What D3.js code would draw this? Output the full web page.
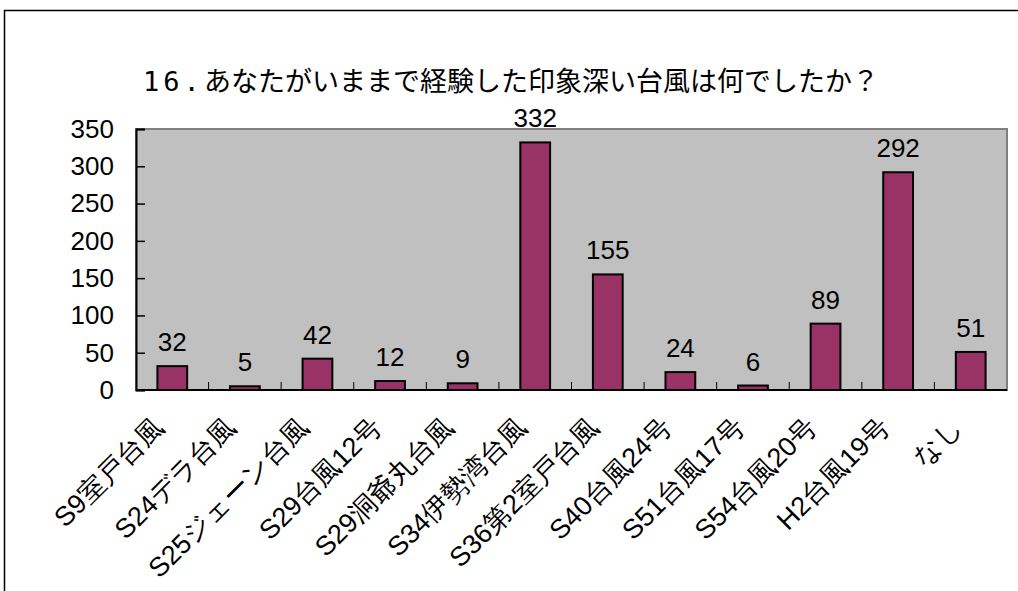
<!DOCTYPE html>
<html>
<head>
<meta charset="utf-8">
<script src="https://cdn.jsdelivr.net/npm/d3@7"></script>
<style>
    body { margin: 0; background: #fff; }
    .axis text { font-family: "Liberation Sans", Arial, sans-serif; }
</style>
</head>
<body>
<script>
var categories = ["S9室戸台風", "S24デラ台風", "S25ジェーン台風", "S29台風12号", "S29洞爺丸台風",
    "S34伊勢湾台風", "S36第2室戸台風", "S40台風24号", "S51台風17号", "S54台風20号", "H2台風19号", "なし"];
var counts = [32, 5, 42, 12, 9, 332, 155, 24, 6, 89, 292, 51];
var yTicks = [0, 50, 100, 150, 200, 250, 300, 350];
var titleNo = "16.";
var title = "あなたがいままで経験した印象深い台風は何でしたか？";

var W = 1018, H = 591;
var plot = {left: 136, right: 1007, top: 129, bottom: 390};
var font = "'Liberation Sans', 'Noto Sans CJK JP', sans-serif";

var svg = d3.select("body").append("svg").attr("width", W).attr("height", H);

// outer chart border (right and bottom run off the page)
svg.append("rect")
    .attr("x", 4.5).attr("y", 10.5)
    .attr("width", W + 10).attr("height", H + 10)
    .attr("fill", "#fff").attr("stroke", "#000").attr("stroke-width", 1.5);

var t = svg.append("text")
    .attr("x", 511).attr("y", 91)
    .attr("text-anchor", "middle")
    .attr("font-family", "'Noto Sans CJK JP', sans-serif")
    .attr("font-size", 27)
    .attr("fill", "#000");
t.append("tspan")
    .attr("font-family", "'DejaVu Sans Mono', monospace")
    .attr("letter-spacing", 4)
    .text(titleNo);
t.append("tspan").text(title);

var xScale = d3.scaleBand()
    .domain(categories)
    .range([plot.left, plot.right])
    .paddingInner(0.59).paddingOuter(0.295);

var xCat = d3.scaleBand().domain(categories).range([plot.left, plot.right]);

var yScale = d3.scaleLinear()
    .domain([0, 350])
    .range([plot.bottom, plot.top]);

// plot area
svg.append("rect")
    .attr("x", plot.left).attr("y", plot.top)
    .attr("width", plot.right - plot.left).attr("height", plot.bottom - plot.top)
    .attr("fill", "#c0c0c0").attr("stroke", "#808080").attr("stroke-width", 2);

// bars
svg.selectAll(".bar")
    .data(counts)
    .enter().append("rect")
    .attr("class", "bar")
    .attr("x", function (d, i) { return xScale(categories[i]); })
    .attr("y", function (d) { return yScale(d); })
    .attr("width", xScale.bandwidth())
    .attr("height", function (d) { return yScale(0) - yScale(d); })
    .attr("fill", "#993366")
    .attr("stroke", "#000")
    .attr("stroke-width", 2);

// value labels
svg.selectAll(".val")
    .data(counts)
    .enter().append("text")
    .attr("class", "val")
    .attr("x", function (d, i) { return xCat(categories[i]) + xCat.bandwidth() / 2; })
    .attr("y", function (d) { return yScale(d) - 15; })
    .attr("text-anchor", "middle")
    .attr("font-family", font)
    .attr("font-size", 26)
    .attr("fill", "#000")
    .text(function (d) { return d; });

// y axis
var yAxis = d3.axisLeft(yScale).tickValues(yTicks).tickSize(-9).tickPadding(22);
var gy = svg.append("g").attr("class", "axis y")
    .attr("transform", "translate(" + plot.left + ",0)")
    .call(yAxis);
gy.select(".domain").attr("stroke", "#000").attr("stroke-width", 2);
gy.selectAll(".tick line").attr("stroke", "#000").attr("stroke-width", 1.5);
gy.selectAll("text").attr("font-size", 26).attr("fill", "#000");

// x axis: ticks at category boundaries
var gx = svg.append("g").attr("class", "axis x")
    .attr("transform", "translate(0," + plot.bottom + ")");
gx.append("line")
    .attr("x1", plot.left).attr("x2", plot.right)
    .attr("stroke", "#000").attr("stroke-width", 2);
gx.selectAll(".tk")
    .data(categories.slice(1))
    .enter().append("line")
    .attr("class", "tk")
    .attr("x1", function (d) { return xCat(d); })
    .attr("x2", function (d) { return xCat(d); })
    .attr("y1", 0).attr("y2", -8)
    .attr("stroke", "#000").attr("stroke-width", 1);
gx.selectAll(".lbl")
    .data(categories)
    .enter().append("text")
    .attr("class", "lbl")
    .attr("transform", function (d) {
        var cx = xCat(d) + xCat.bandwidth() / 2;
        return "translate(" + (cx - 14) + ",32)rotate(-45)";
    })
    .attr("text-anchor", "end")
    .attr("dy", "0.35em")
    .attr("font-family", font)
    .attr("font-size", 27)
    .attr("fill", "#000")
    .text(function (d) { return d; });
</script>
</body>
</html>
